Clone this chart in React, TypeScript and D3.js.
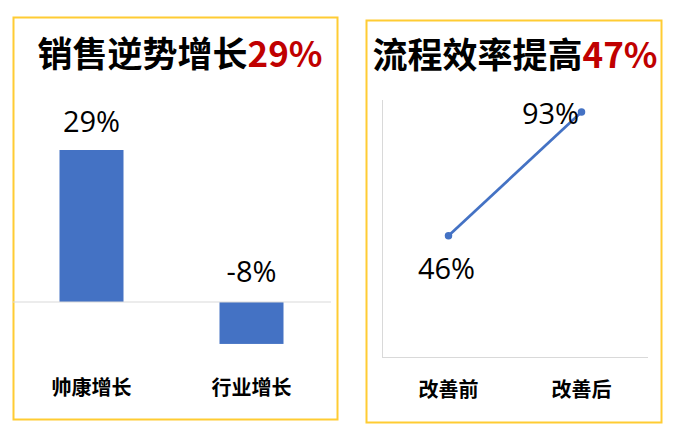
import React from 'react';
import * as d3 from 'd3';

// left chart: sales growth vs industry
const salesCategories = ['帅康增长', '行业增长'];
const salesValues = [29, -8];
const salesTitle = '销售逆势增长';
const salesTitleHighlight = '29%';

// right chart: process efficiency
const processCategories = ['改善前', '改善后'];
const processValues = [46, 93];
const processTitle = '流程效率提高';
const processTitleHighlight = '47%';

const W = 676;
const H = 435;
const BLUE = '#4472C4';
const RED = '#C00000';
const FRAME = '#FFCC33';
const AXIS = '#D9D9D9';
const CJK = '"Noto Sans CJK SC", "Noto Sans", sans-serif';
const NUM = '"Open Sans", "Noto Sans", sans-serif';

const BarPanel: React.FC = () => {
  const x = d3.scaleBand<string>().domain(salesCategories).range([11.5, 331.5]).paddingInner(0.6).paddingOuter(0.3);
  const y = d3.scaleLinear().domain([0, 29]).range([302, 150]);
  return (
    <g>
      <rect x={13.5} y={17.5} width={324} height={402} fill="#fff" stroke={FRAME} strokeWidth={2} />
      <text x={180} y={67} textAnchor="middle" fontFamily={CJK} fontWeight={700} fontSize={35}>
        {salesTitle}
        <tspan fill={RED}>{salesTitleHighlight}</tspan>
      </text>
      {salesValues.map((v, i) => {
        const c = salesCategories[i];
        const top = Math.min(y(v), y(0));
        const h = Math.abs(y(v) - y(0));
        return <rect key={c} x={x(c)} y={top} width={x.bandwidth()} height={h} fill={BLUE} />;
      })}
      <line x1={13} x2={331} y1={y(0)} y2={y(0)} stroke={AXIS} strokeWidth={1} />
      {salesValues.map((v, i) => {
        const c = salesCategories[i];
        const cx = (x(c) as number) + x.bandwidth() / 2;
        const ty = v >= 0 ? y(v) - 18 : y(0) - 20;
        return (
          <text key={c} x={cx} y={ty} textAnchor="middle" fontFamily={NUM} fontSize={29} fill="#000">
            {v}%
          </text>
        );
      })}
      {salesCategories.map((c) => (
        <text key={c} x={(x(c) as number) + x.bandwidth() / 2} y={395} textAnchor="middle" fontFamily={CJK} fontWeight={700} fontSize={20}>
          {c}
        </text>
      ))}
    </g>
  );
};

const LinePanel: React.FC = () => {
  const x = d3.scalePoint<string>().domain(processCategories).range([382, 648]).padding(0.5);
  const y = d3.scaleLinear().domain([0, 93]).range([357, 112]);
  const line = d3.line<number>()
    .x((_, i) => x(processCategories[i]) as number)
    .y((d) => y(d));
  return (
    <g>
      <rect x={366.5} y={20.5} width={295} height={402} fill="#fff" stroke={FRAME} strokeWidth={2} />
      <text x={515} y={68} textAnchor="middle" fontFamily={CJK} fontWeight={700} fontSize={35}>
        {processTitle}
        <tspan fill={RED}>{processTitleHighlight}</tspan>
      </text>
      <line x1={382.5} x2={382.5} y1={100} y2={357} stroke={AXIS} strokeWidth={1} />
      <line x1={382} x2={648} y1={357.5} y2={357.5} stroke={AXIS} strokeWidth={1} />
      <path d={line(processValues) || ''} fill="none" stroke={BLUE} strokeWidth={2.75} />
      {processValues.map((v, i) => (
        <circle key={i} cx={x(processCategories[i])} cy={y(v)} r={3.75} fill={BLUE} />
      ))}
      {processValues.map((v, i) => {
        const px = x(processCategories[i]) as number;
        const last = i === processValues.length - 1;
        return (
          <text key={i} x={last ? px - 31 : px - 2} y={last ? y(v) + 12 : y(v) + 43} textAnchor="middle" fontFamily={NUM} fontSize={29} fill="#000">
            {v}%
          </text>
        );
      })}
      {processCategories.map((c) => (
        <text key={c} x={x(c)} y={397} textAnchor="middle" fontFamily={CJK} fontWeight={700} fontSize={20}>
          {c}
        </text>
      ))}
    </g>
  );
};

export default function App() {
  return (
    <svg width={W} height={H} style={{ position: 'absolute', left: 0, top: 0, background: '#fff' }}>
      <BarPanel />
      <LinePanel />
    </svg>
  );
}
